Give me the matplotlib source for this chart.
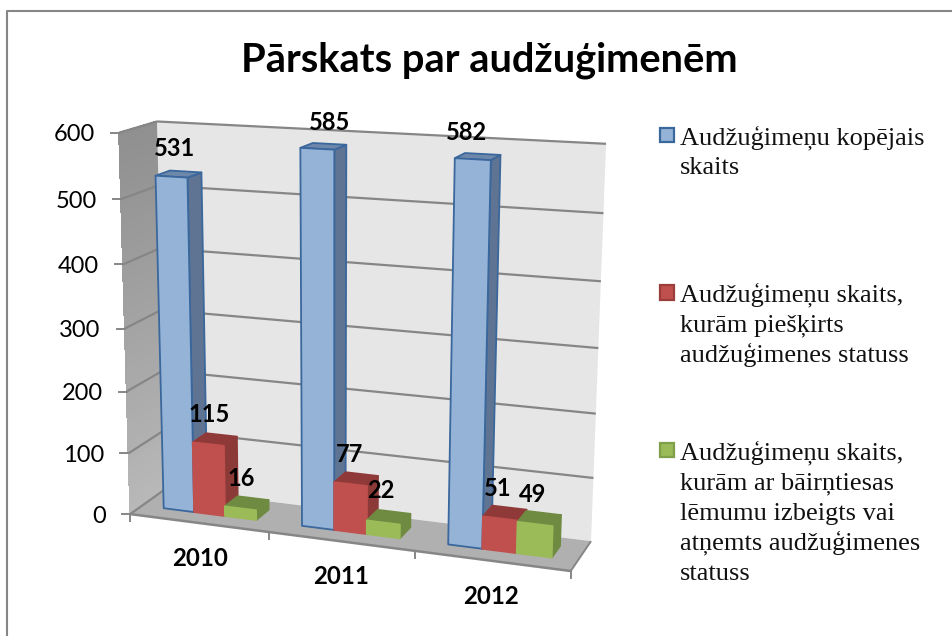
import matplotlib
matplotlib.use("Agg")
import matplotlib.pyplot as plt
import numpy as np
from matplotlib.patches import Polygon

title = "Pārskats par audžuģimenēm"
years = ["2010", "2011", "2012"]
total_families = [531, 585, 582]
status_granted = [115, 77, 51]
status_ended = [16, 22, 49]
y_ticks = [0, 100, 200, 300, 400, 500, 600]
legend_labels = [
    "Audžuģimeņu kopējais\nskaits",
    "Audžuģimeņu skaits,\nkurām piešķirts\naudžuģimenes statuss",
    "Audžuģimeņu skaits,\nkurām ar bāirņtiesas\nlēmumu izbeigts vai\natņemts audžuģimenes\nstatuss",
]

# (front, side, top, edge) per series, edge None means same as the face
series_colors = [
    ("#95B3D7", "#5F7493", "#6E88AC", "#3A679C"),
    ("#C0504D", "#8C3A38", "#8F3A39", None),
    ("#9BBB59", "#6F8A41", "#6F8A41", None),
]
legend_edges = ["#3A679C", "#9B3D3A", "#7F9F48"]
GRID = "#868686"

# box corners (category, value, depth) -> pixel, used to fit the 3d view
view_3d = [(0, 0, 0), (0, 600, 0), (0, 0, 1), (0, 600, 1), (3, 0, 1), (3, 600, 1),
           (3, 0, 0), (1, 0, 0), (2, 0, 0)]
view_px = [(132, 512), (118, 132), (164, 490), (158, 122), (592, 539), (606, 144),
           (570, 572), (269, 533), (415, 552)]


def fit_view(pts, px):
    rows, rhs = [], []
    for (u, v, d), (x, y) in zip(pts, px):
        rows.append([u, v, d, 1, 0, 0, 0, 0, -x * u, -x * v, -x * d])
        rhs.append(x)
        rows.append([0, 0, 0, 0, u, v, d, 1, -y * u, -y * v, -y * d])
        rhs.append(y)
    # scale the columns, value runs to 600 and the rest to 3
    a = np.array(rows, dtype=float)
    s = np.abs(a).max(axis=0)
    sol = np.linalg.lstsq(a / s, np.array(rhs, dtype=float), rcond=None)[0] / s
    return np.append(sol, 1.0).reshape(3, 4)


M = fit_view(view_3d, view_px)


def proj(u, v, d):
    p = M @ np.array([u, v, d, 1.0])
    return p[0] / p[2], p[1] / p[2]


def face(ax, pts, fc, ec=None, lw=0.0, z=1, aa=True):
    ax.add_patch(Polygon([proj(*p) for p in pts], closed=True, facecolor=fc,
                         edgecolor=ec if ec else fc, linewidth=lw, zorder=z,
                         joinstyle="round", antialiased=aa))


def line(ax, a, b, z=2, lw=1.6):
    pa, pb = proj(*a), proj(*b)
    ax.plot([pa[0], pb[0]], [pa[1], pb[1]], color=GRID, lw=lw, zorder=z, solid_capstyle="butt")


def draw_bar(ax, u0, u1, d0, d1, value, colors, z):
    front, side, top, edge = colors
    face(ax, [(u1, 0, d0), (u1, 0, d1), (u1, value, d1), (u1, value, d0)], side, edge, 1.3, z)
    face(ax, [(u0, value, d0), (u1, value, d0), (u1, value, d1), (u0, value, d1)], top, edge, 1.3, z)
    face(ax, [(u0, 0, d0), (u1, 0, d0), (u1, value, d0), (u0, value, d0)], front, edge, 1.3, z)


fig = plt.figure(figsize=(9.53, 6.36), dpi=100)
ax = fig.add_axes([0, 0, 1, 1])
ax.set_xlim(0, 953)
ax.set_ylim(636, 0)
ax.axis("off")

# outer frame, only top and left show in the picture
ax.plot([7, 7, 953], [636, 11, 11], color=GRID, lw=1.5, zorder=0)

ax.text(489, 60, title, family="Lato", weight="bold", fontsize=28.7, ha="center", va="center")

# left wall with gradient, back wall, floor
steps = 40
for i in range(steps):
    v0, v1 = 600 * i / steps, 600 * (i + 1) / steps
    g = 0.72 - 0.16 * (i / steps)
    face(ax, [(0, v0, 0), (0, v0, 1), (0, v1, 1), (0, v1, 0)], (g, g, g), None, 0.5, 1, aa=False)
face(ax, [(0, 0, 1), (3, 0, 1), (3, 600, 1), (0, 600, 1)], "#E6E6E6", None, 0, 1)
face(ax, [(0, 0, 0), (3, 0, 0), (3, 0, 1), (0, 0, 1)], "#B0B0B0", None, 0, 1)

for v in y_ticks:
    line(ax, (0, v, 0), (0, v, 1))
    if v > 0:
        line(ax, (0, v, 1), (3, v, 1))
    x, y = proj(0, v, 0)
    ax.plot([x - 8, x], [y, y], color=GRID, lw=1.4, zorder=2)
    ax.text(x - 24, y + 2, str(v), family="Lato", fontsize=17, ha="right", va="center")

line(ax, (0, 0, 0), (3, 0, 0), lw=1.8)
line(ax, (3, 0, 0), (3, 0, 1), lw=1.4)
for c in range(4):
    x, y = proj(c, 0, 0)
    ax.plot([x, x], [y, y + 7], color=GRID, lw=1.4, zorder=2)

# bars
all_series = [total_families, status_granted, status_ended]
for c in range(len(years)):
    for s, values in enumerate(all_series):
        u0 = c + 0.16 + 0.225 * s
        draw_bar(ax, u0, u0 + 0.225, 0.33, 0.72, values[c], series_colors[s], 3 + s + 3 * c)

# data labels, placed by hand like in the picture
label_px = [[(175, 149), (330, 122), (467, 132)],
            [(209, 414), (350, 454), (498, 489)],
            [(241, 478), (381, 491), (533, 494)]]
for s, values in enumerate(all_series):
    for c, val in enumerate(values):
        ax.text(label_px[s][c][0], label_px[s][c][1], str(val), family="Lato", weight="bold",
                fontsize=17, ha="center", va="center", zorder=20)

year_px = [(200, 559), (341, 577), (491, 597)]
for yr, pos in zip(years, year_px):
    ax.text(pos[0], pos[1], yr, family="Lato", weight="bold", fontsize=17.3, ha="center", va="center")

# legend, y is the baseline of the first line
legend_y = [144, 301.5, 459]
for lab, y0, colors, edge in zip(legend_labels, legend_y, series_colors, legend_edges):
    ax.add_patch(Polygon([(660, y0 - 16.5), (674, y0 - 16.5), (674, y0 - 2), (660, y0 - 2)], closed=True,
                         facecolor=colors[0], edgecolor=edge, linewidth=1.6))
    for i, part in enumerate(lab.split("\n")):
        ax.text(680, y0 + 30.3 * i, part, family="Liberation Serif", fontsize=19,
                ha="left", va="baseline", color="#111111")

fig.savefig("out.png", dpi=100)
